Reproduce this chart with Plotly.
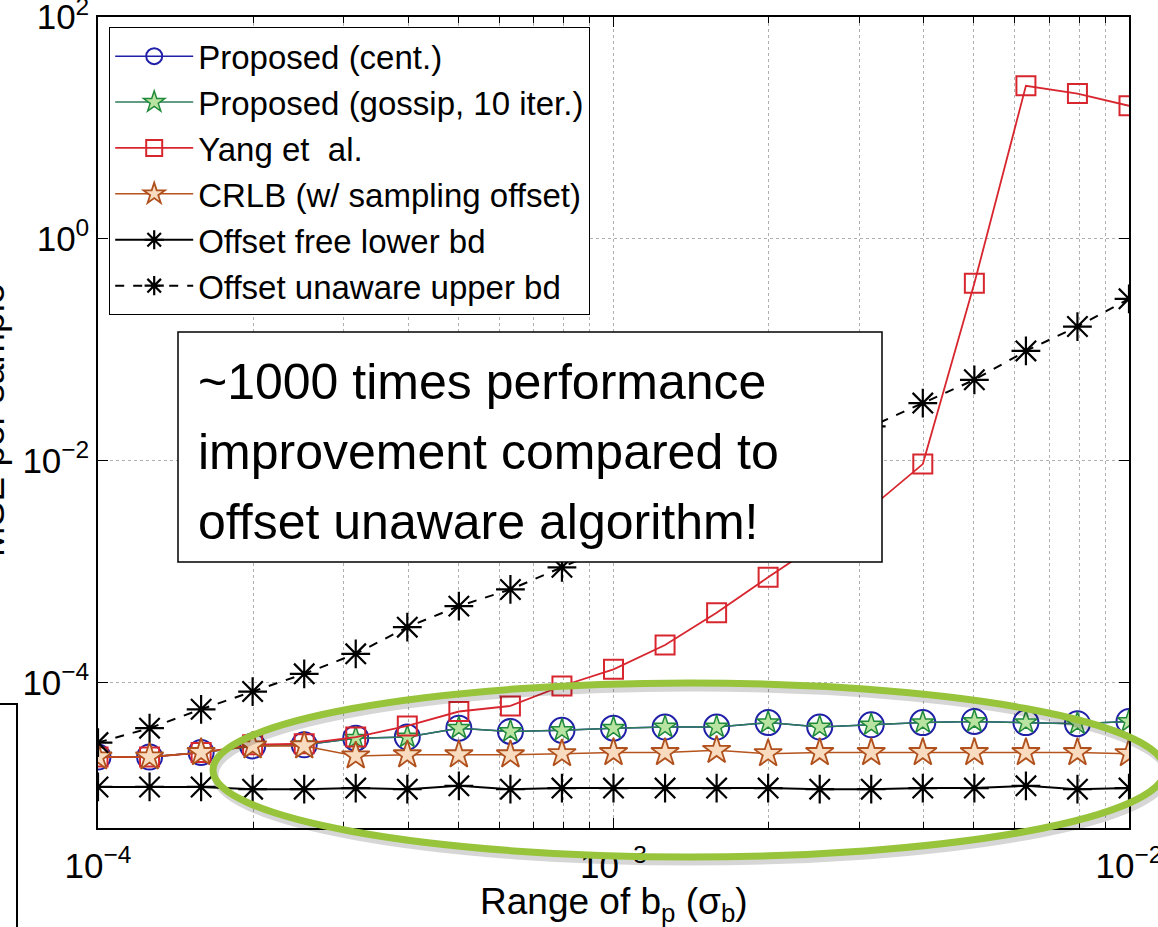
import plotly.graph_objects as go

# ---- data ----
b_range = [1.000e-4, 1.259e-4, 1.585e-4, 1.995e-4, 2.512e-4, 3.162e-4, 3.981e-4,
           5.012e-4, 6.310e-4, 7.943e-4, 1.000e-3, 1.259e-3, 1.585e-3, 1.995e-3,
           2.512e-3, 3.162e-3, 3.981e-3, 5.012e-3, 6.310e-3, 7.943e-3, 1.000e-2]

proposed_cent = [2.138e-5, 2.138e-5, 2.344e-5, 2.692e-5, 2.754e-5, 3.162e-5, 3.236e-5,
                 3.890e-5, 3.631e-5, 3.715e-5, 3.890e-5, 3.981e-5, 3.981e-5, 4.365e-5,
                 3.981e-5, 4.169e-5, 4.365e-5, 4.467e-5, 4.365e-5, 4.266e-5, 4.467e-5]

proposed_gossip = [2.138e-5, 2.138e-5, 2.344e-5, 2.692e-5, 2.754e-5, 3.162e-5, 3.236e-5,
                   3.890e-5, 3.631e-5, 3.715e-5, 3.890e-5, 3.981e-5, 3.981e-5, 4.365e-5,
                   3.981e-5, 4.169e-5, 4.365e-5, 4.467e-5, 4.365e-5, 4.266e-5, 4.467e-5]

yang = [2.138e-5, 2.138e-5, 2.344e-5, 2.754e-5, 2.818e-5, 3.236e-5, 4.074e-5,
        5.495e-5, 6.166e-5, 9.333e-5, 1.318e-4, 2.188e-4, 4.266e-4, 8.913e-4,
        1.820e-3, 3.802e-3, 9.333e-3, 0.398, 23.99, 20.42, 15.85]

crlb = [2.138e-5, 2.138e-5, 2.344e-5, 2.692e-5, 2.692e-5, 2.188e-5, 2.239e-5,
        2.239e-5, 2.239e-5, 2.291e-5, 2.344e-5, 2.344e-5, 2.455e-5, 2.291e-5,
        2.344e-5, 2.344e-5, 2.344e-5, 2.344e-5, 2.344e-5, 2.344e-5, 2.291e-5]

offset_free_lower = [1.148e-5, 1.148e-5, 1.148e-5, 1.096e-5, 1.096e-5, 1.122e-5, 1.096e-5,
                     1.175e-5, 1.096e-5, 1.122e-5, 1.122e-5, 1.122e-5, 1.122e-5, 1.122e-5,
                     1.096e-5, 1.096e-5, 1.122e-5, 1.122e-5, 1.175e-5, 1.096e-5, 1.122e-5]

offset_unaware_upper = [2.884e-5, 3.890e-5, 5.754e-5, 8.318e-5, 1.202e-4, 1.820e-4, 3.162e-4,
                        4.898e-4, 6.918e-4, 1.096e-3, 1.738e-3, 2.818e-3, 4.571e-3, 7.586e-3,
                        1.230e-2, 2.042e-2, 3.311e-2, 5.370e-2, 9.772e-2, 0.1622, 0.2884]

names = ["Proposed (cent.)", "Proposed (gossip, 10 iter.)", "Yang et  al.",
         "CRLB (w/ sampling offset)", "Offset free lower bd", "Offset unaware upper bd"]

x_tickvals = [1e-4, 1e-3, 1e-2]
x_ticktext = ["10<sup>−4</sup>", "10<sup>−3</sup>", "10<sup>−2</sup>"]
y_tickvals = [1e-4, 1e-2, 1e0, 1e2]
y_ticktext = ["10<sup>−4</sup>", "10<sup>−2</sup>", "10<sup>0</sup>", "10<sup>2</sup>"]

x_title = "Range of b<sub>p</sub> (σ<sub>b</sub>)"
y_title = "MSE per sample"
callout = ["~1000 times performance", "improvement compared to", "offset unaware algorithm!"]

FONT = "Liberation Sans, Arial, Helvetica, sans-serif"

fig = go.Figure()

fig.add_trace(go.Scatter(
    x=b_range, y=proposed_cent, name=names[0], mode="lines+markers",
    line=dict(color="#1f1fa8", width=1.5),
    marker=dict(symbol="circle-open", size=25, color="#1f1fa8", line=dict(width=2, color="#1f1fa8"))))

fig.add_trace(go.Scatter(
    x=b_range, y=proposed_gossip, name=names[1], mode="lines+markers",
    line=dict(color="#2e7d5a", width=1.5),
    marker=dict(symbol="star", size=17, color="#b9e3a0", line=dict(width=1.5, color="#1f8a3a"))))

fig.add_trace(go.Scatter(
    x=b_range, y=yang, name=names[2], mode="lines+markers",
    line=dict(color="#d8262f", width=1.8),
    marker=dict(symbol="square-open", size=19, color="#d8262f", line=dict(width=2, color="#d8262f"))))

fig.add_trace(go.Scatter(
    x=b_range, y=crlb, name=names[3], mode="lines+markers",
    line=dict(color="#b5541c", width=1.5),
    marker=dict(symbol="star", size=21, color="#f9dcc0", line=dict(width=1.8, color="#b0501c"))))

fig.add_trace(go.Scatter(
    x=b_range, y=offset_free_lower, name=names[4], mode="lines+markers",
    line=dict(color="black", width=2),
    marker=dict(symbol="asterisk-open", size=24, color="black", line=dict(width=2.2, color="black"))))

fig.add_trace(go.Scatter(
    x=b_range, y=offset_unaware_upper, name=names[5], mode="lines+markers",
    line=dict(color="black", width=2, dash="dash"),
    marker=dict(symbol="asterisk-open", size=24, color="black", line=dict(width=2.2, color="black"))))

# plot area in pixels: x 98..1129, y 17..828
L, R, T, B = 98, 1129, 17, 828
W, H = R - L, B - T


def px(xp):
    return (xp - L) / W


def py(yp):
    return (B - yp) / H


grid_col = "#b0b0b0"
fig.update_layout(
    width=1158, height=927,
    margin=dict(l=L, r=1158 - R, t=T, b=927 - B, autoexpand=False),
    paper_bgcolor="white", plot_bgcolor="white",
    font=dict(family=FONT, size=34, color="black"),
    showlegend=True,
    legend=dict(
        x=px(109), y=py(27), xanchor="left", yanchor="top",
        bgcolor="white", bordercolor="black", borderwidth=1.2,
        font=dict(family=FONT, size=33, color="black"),
        itemwidth=78, tracegroupgap=0,
    ),
    xaxis=dict(
        type="log", range=[-4, -2], tickvals=x_tickvals, ticktext=x_ticktext,
        automargin=False,
        showline=True, linecolor="black", linewidth=1.5, mirror="ticks",
        ticks="inside", ticklen=10, tickcolor="black", tickwidth=1,
        showgrid=True, gridcolor=grid_col, griddash="dot", gridwidth=1,
        ticklabelstandoff=6, ticklabeloverflow="allow",
        tickfont=dict(family=FONT, size=35),
        minor=dict(ticks="inside", ticklen=6, tickcolor="black", dtick="D1",
                   showgrid=True, gridcolor=grid_col, griddash="dot", gridwidth=1),
        zeroline=False,
    ),
    yaxis=dict(
        type="log", range=[-5.31, 2.0], tickvals=y_tickvals, ticktext=y_ticktext,
        automargin=False,
        showline=True, linecolor="black", linewidth=1.5, mirror="ticks",
        ticks="inside", ticklen=10, tickcolor="black", tickwidth=1,
        showgrid=True, gridcolor=grid_col, griddash="dot", gridwidth=1,
        ticklabeloverflow="allow",
        tickfont=dict(family=FONT, size=35),
        zeroline=False,
    ),
)

# x axis title
fig.add_annotation(xref="paper", yref="paper", x=px(614), y=py(904), xanchor="center", yanchor="middle",
                   text=x_title, showarrow=False, font=dict(family=FONT, size=37, color="black"))
# y axis title (mostly cut off at the left edge, as in the reference)
fig.add_annotation(xref="paper", yref="paper", x=px(-9), y=py(420), xanchor="center", yanchor="middle",
                   text=y_title, textangle=-90, showarrow=False,
                   font=dict(family=FONT, size=37, color="black"))

# call-out box
fig.add_shape(type="rect", xref="paper", yref="paper", x0=px(178), x1=px(882), y0=py(562), y1=py(332),
              fillcolor="white", line=dict(color="black", width=1.5), layer="above")
for i, line_txt in enumerate(callout):
    fig.add_annotation(xref="paper", yref="paper", x=px(196), y=py(382 + 70 * i), xanchor="left",
                       yanchor="middle", text=line_txt, showarrow=False,
                       font=dict(family=FONT, size=50, color="black"))

# green ellipse with soft shadow
fig.add_shape(type="circle", xref="paper", yref="paper", x0=px(215), x1=px(1167), y0=py(862), y1=py(688),
              line=dict(color="rgba(0,0,0,0.16)", width=7), layer="above")
fig.add_shape(type="circle", xref="paper", yref="paper", x0=px(213), x1=px(1165), y0=py(857), y1=py(683),
              line=dict(color="#97c43a", width=7), layer="above")

# slide frame fragment at the bottom-left
fig.add_shape(type="rect", xref="paper", yref="paper", x0=px(-60), x1=px(17), y0=py(960), y1=py(704),
              line=dict(color="black", width=2), fillcolor="rgba(0,0,0,0)", layer="above")

fig.write_html("out.html")
